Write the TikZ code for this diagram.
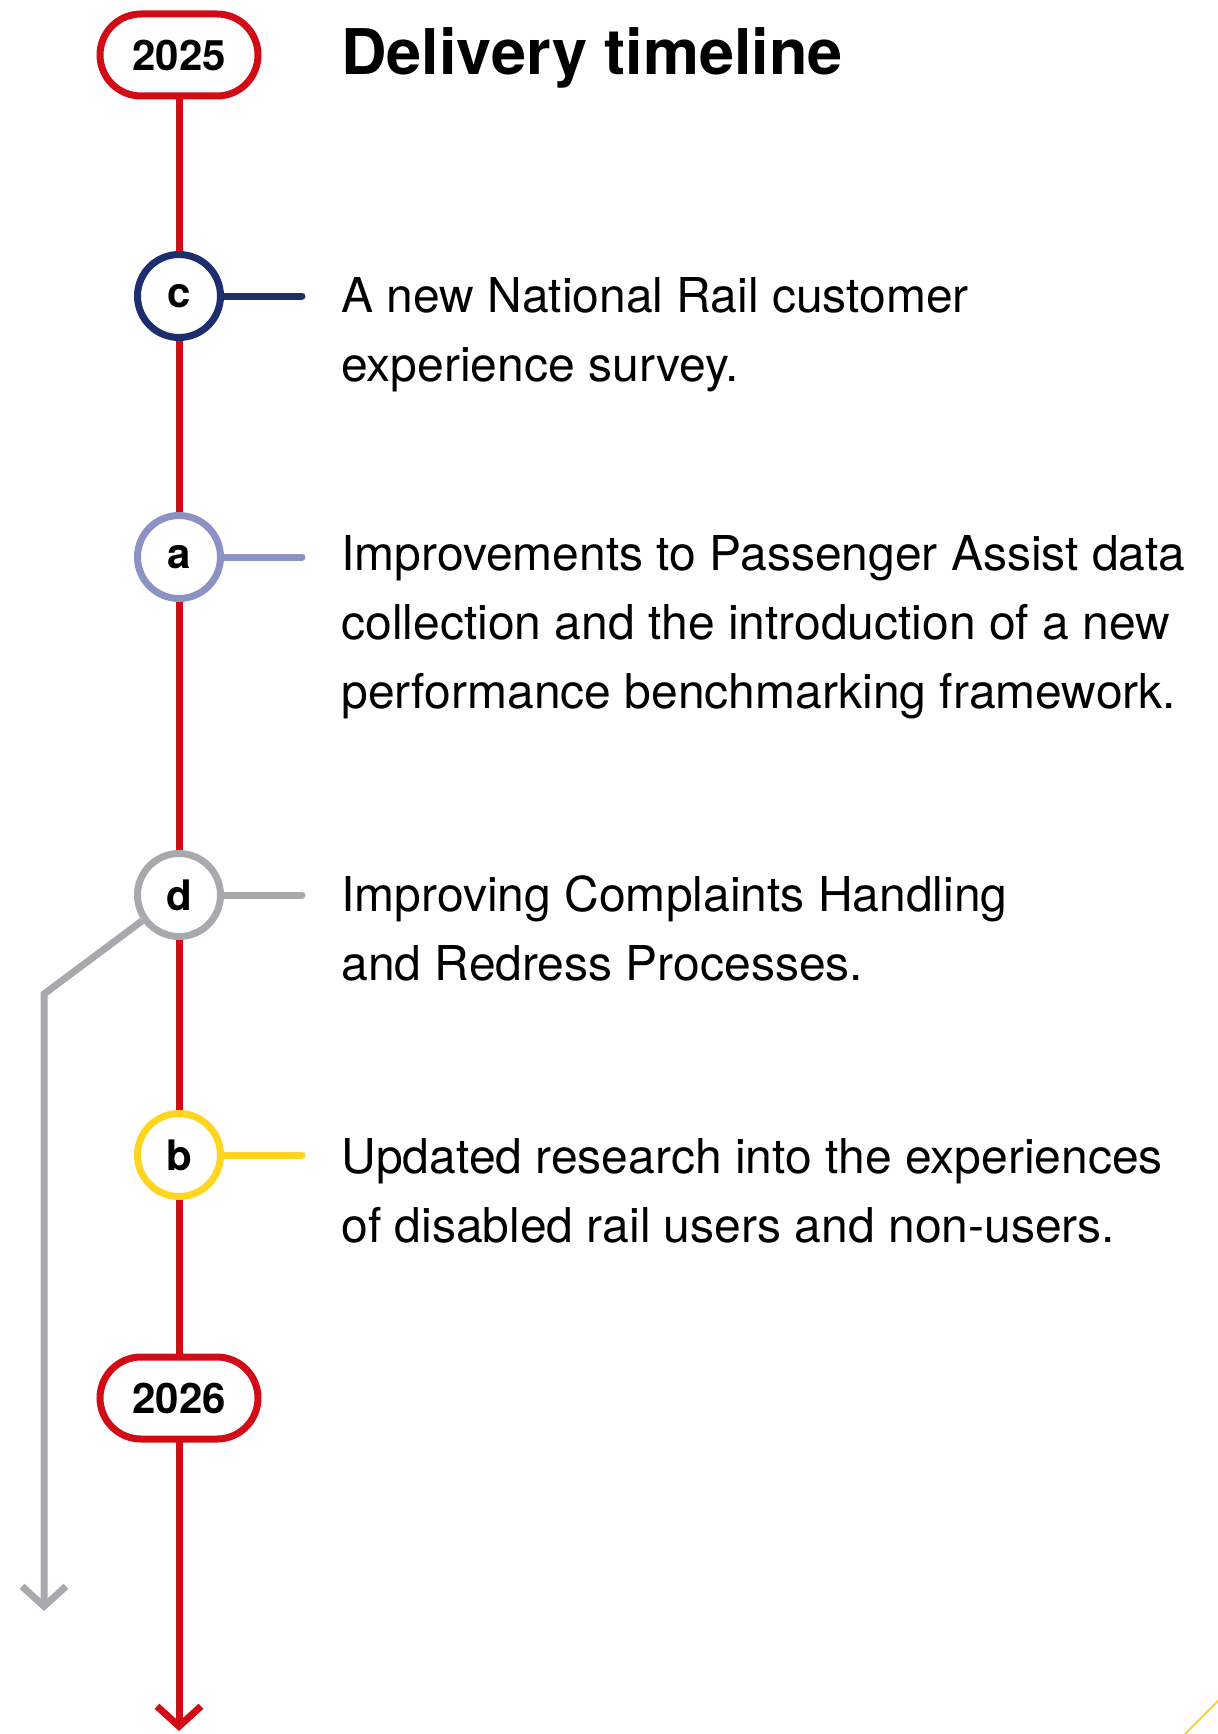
\documentclass[tikz,border=0pt]{standalone}
\usepackage{fontspec}
\setmainfont{TeX Gyre Heros}
\usetikzlibrary{arrows.meta,backgrounds}

\definecolor{railred}{RGB}{210,12,22}
\definecolor{railnavy}{RGB}{30,45,110}
\definecolor{raillilac}{RGB}{140,146,195}
\definecolor{railgrey}{RGB}{167,169,172}
\definecolor{railyellow}{RGB}{255,213,32}

\tikzset{
  year/.style={draw=railred, fill=white, line width=3.5pt, rounded corners=20.5pt,
    minimum width=79pt, minimum height=41pt, inner sep=0pt,
    font=\fontsize{21}{21}\selectfont\bfseries},
  stop/.style={circle, draw=#1, fill=white, line width=3.5pt, minimum size=41.5pt,
    inner sep=0pt, font=\fontsize{21}{21}\selectfont\bfseries},
  tick/.style={#1, line width=3.5pt, line cap=round},
  entry/.style={anchor=base west, align=left, inner sep=0pt,
    font=\fontsize{24}{34.5}\selectfont},
  barb/.style={-{Straight Barb[length=10pt,width=22pt]}},
}

\begin{document}
\begin{tikzpicture}[x=0.5pt, y=-0.5pt]
        \useasboundingbox (0,0) rectangle (1217,1734);

        % Nodes
        \node[year] (Year2025) at (179,55) {2025};
        \node[year] (Year2026) at (179,1398) {2026};
        \node[stop=railnavy] (StopC) at (179,296) {c};
        \node[stop=raillilac] (StopA) at (179,557) {a};
        \node[stop=railgrey] (StopD) at (179,895) {d};
        \node[stop=railyellow] (StopB) at (179,1155) {b};

        \node[anchor=base west, inner sep=0pt, font=\fontsize{31.5}{31.5}\selectfont\bfseries]
            (Title) at (341,75) {Delivery timeline};
        % entries sit on the baseline of their last line
        \node[entry] (TextC) at (341,381) {A new National Rail customer\\experience survey.};
        \node[entry] (TextA) at (341,708) {Improvements to Passenger Assist data\\collection and the introduction of a new\\performance benchmarking framework.};
        \node[entry] (TextD) at (341,980) {Improving Complaints Handling\\and Redress Processes.};
        \node[entry] (TextB) at (341,1242) {Updated research into the experiences\\of disabled rail users and non-users.};

        % Free ends
        \coordinate (TickC) at (302,296);
        \coordinate (TickA) at (302,557);
        \coordinate (TickD) at (302,895);
        \coordinate (TickB) at (302,1155);
        \coordinate (RedEnd) at (179,1731);
        \coordinate (GreyBend) at (44,994);
        \coordinate (GreyEnd) at (44,1611);

        % Lines
        \begin{scope}[on background layer]
            \draw[railred, line width=3.5pt, barb] (Year2025) -- (RedEnd);
            \draw[railgrey, line width=3.5pt, barb] (StopD.215) -- (GreyBend) -- (GreyEnd);
        \end{scope}
        \draw[tick=railnavy] (StopC.east) -- (TickC);
        \draw[tick=raillilac] (StopA.east) -- (TickA);
        \draw[tick=railgrey] (StopD.east) -- (TickD);
        \draw[tick=railyellow] (StopB.east) -- (TickB);

        % corner stroke
        \draw[railyellow, line width=1pt] (1180,1739) -- (1222,1697);
    \end{tikzpicture}
\end{document}
